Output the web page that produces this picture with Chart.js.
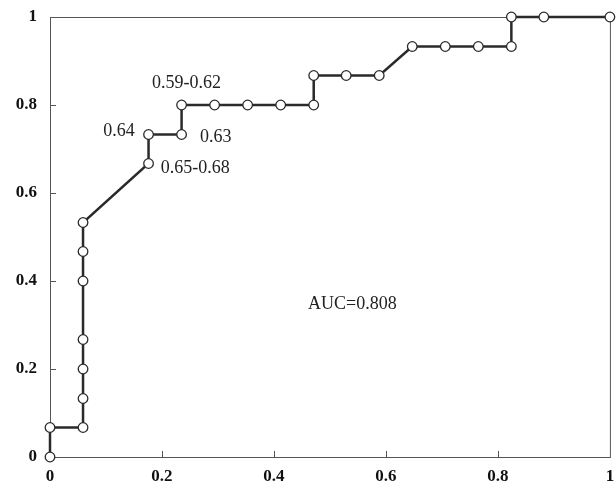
<!DOCTYPE html>
<html>
<head>
<meta charset="utf-8">
<script src="https://cdn.jsdelivr.net/npm/chart.js@4/dist/chart.umd.min.js"></script>
<style>
  body { margin: 0; background: #fff; }
  #wrap { width: 616px; height: 488px; }
</style>
</head>
<body>
<div id="wrap"><canvas id="roc" width="616" height="488"></canvas></div>
<script>
// ROC curve points (1 - specificity, sensitivity)
const fpr = [0, 0, 0.059, 0.059, 0.059, 0.059, 0.059, 0.059, 0.059,
  0.176, 0.176, 0.235, 0.235, 0.294, 0.353, 0.412, 0.471, 0.471,
  0.529, 0.588, 0.647, 0.706, 0.765, 0.824, 0.824, 0.882, 1];
const tpr = [0, 0.067, 0.067, 0.133, 0.2, 0.267, 0.4, 0.467, 0.533,
  0.667, 0.733, 0.733, 0.8, 0.8, 0.8, 0.8, 0.8, 0.867,
  0.867, 0.867, 0.933, 0.933, 0.933, 0.933, 1, 1, 1];
const tickValues = [0, 0.2, 0.4, 0.6, 0.8, 1];

// cut-off labels next to the curve, and the AUC note
const noteTexts = ["0.59-0.62", "0.64", "0.63", "0.65-0.68", "AUC=0.808"];
const noteX = [0.182, 0.095, 0.268, 0.198, 0.461];
const noteY = [0.85, 0.741, 0.727, 0.657, 0.348];

const serif = "'Liberation Serif', 'Times New Roman', serif";

function tickLabel(v) {
  return v === 0 || v === 1 ? String(v) : v.toFixed(1);
}

// the edge labels should not push the plot area in
function fixSize(s, w, h) {
  if (w) s.width = w;
  if (h) s.height = h;
  s.paddingTop = 0;
  s.paddingBottom = 0;
  s.paddingLeft = 0;
  s.paddingRight = 0;
}

// frame, inward tick marks and text notes
const framePlugin = {
  id: "frame",
  beforeDatasetsDraw(chart) {
    const ctx = chart.ctx;
    const a = chart.chartArea;
    const xs = chart.scales.x;
    const ys = chart.scales.y;
    ctx.save();
    ctx.strokeStyle = "#555";
    ctx.lineWidth = 1;
    ctx.strokeRect(a.left + 0.5, a.top + 0.5, a.right - a.left, a.bottom - a.top);
    ctx.beginPath();
    tickValues.slice(1, -1).forEach((v) => {
      const px = Math.round(xs.getPixelForValue(v)) + 0.5;
      ctx.moveTo(px, a.bottom);
      ctx.lineTo(px, a.bottom - 6);
      const py = Math.round(ys.getPixelForValue(v)) + 0.5;
      ctx.moveTo(a.left, py);
      ctx.lineTo(a.left + 6, py);
    });
    ctx.stroke();
    ctx.restore();
  },
  afterDatasetsDraw(chart) {
    const ctx = chart.ctx;
    const xs = chart.scales.x;
    const ys = chart.scales.y;
    ctx.save();
    ctx.fillStyle = "#222";
    ctx.font = "18px " + serif;
    ctx.textAlign = "left";
    ctx.textBaseline = "middle";
    for (let i = 0; i < noteTexts.length; i++) {
      ctx.fillText(noteTexts[i], xs.getPixelForValue(noteX[i]), ys.getPixelForValue(noteY[i]));
    }
    ctx.restore();
  },
};

const points = fpr.map((x, i) => ({ x: x, y: tpr[i] }));

new Chart(document.getElementById("roc"), {
  type: "scatter",
  data: {
    datasets: [
      {
        data: points,
        showLine: true,
        borderColor: "#2a2a2a",
        borderWidth: 2.5,
        tension: 0,
        pointRadius: 4.8,
        pointBackgroundColor: "#fff",
        pointBorderColor: "#2a2a2a",
        pointBorderWidth: 1.3,
        clip: false,
      },
    ],
  },
  options: {
    responsive: false,
    animation: false,
    layout: { padding: { top: 17, right: 6, bottom: 0, left: 0 } },
    plugins: { legend: { display: false }, tooltip: { enabled: false } },
    scales: {
      x: {
        type: "linear",
        min: 0,
        max: 1,
        afterBuildTicks: (s) => { s.ticks = tickValues.map((v) => ({ value: v })); },
        afterFit: (s) => fixSize(s, 0, 31),
        grid: { drawOnChartArea: false, drawTicks: false },
        border: { display: false },
        ticks: {
          padding: 9,
          color: "#111",
          font: { family: serif, size: 17, weight: "bold" },
          callback: (v) => tickLabel(v),
        },
      },
      y: {
        type: "linear",
        min: 0,
        max: 1,
        afterBuildTicks: (s) => { s.ticks = tickValues.map((v) => ({ value: v })); },
        afterFit: (s) => fixSize(s, 50, 0),
        grid: { drawOnChartArea: false, drawTicks: false },
        border: { display: false },
        ticks: {
          padding: 13,
          color: "#111",
          font: { family: serif, size: 17, weight: "bold" },
          callback: (v) => tickLabel(v),
        },
      },
    },
  },
  plugins: [framePlugin],
});
</script>
</body>
</html>
